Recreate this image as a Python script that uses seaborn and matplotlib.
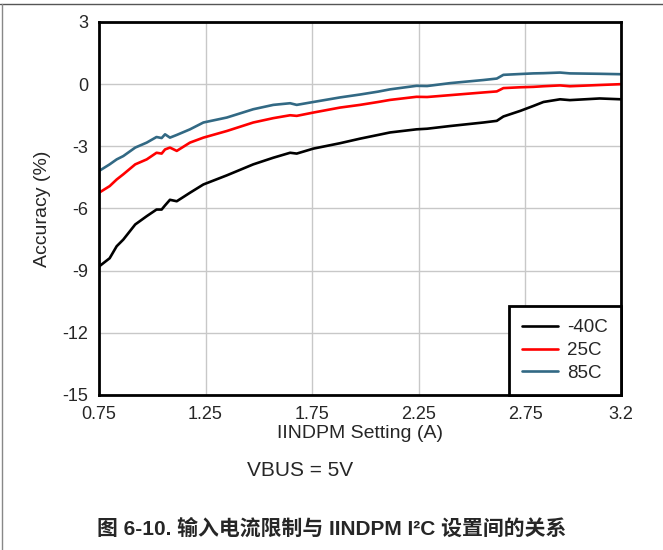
import numpy as np
import pandas as pd
import matplotlib
matplotlib.use("Agg")
import matplotlib.pyplot as plt
import seaborn as sns
from matplotlib.lines import Line2D

sns.set_style("white")
plt.rcParams['font.family'] = ['Liberation Sans', 'Noto Sans CJK SC', 'DejaVu Sans']
plt.rcParams['axes.unicode_minus'] = False

# IINDPM setting (A)
iindpm = [0.75, 0.80, 0.833, 0.864, 0.92, 0.974, 1.02, 1.044, 1.06, 1.083, 1.115,
          1.177, 1.24, 1.35, 1.474, 1.568, 1.647, 1.678, 1.756, 1.881, 1.975,
          2.06, 2.116, 2.24, 2.29, 2.398, 2.554, 2.617, 2.648, 2.727, 2.789,
          2.836, 2.914, 2.96, 3.10, 3.2]

acc_m40 = [-8.8, -8.4, -7.82, -7.5, -6.77, -6.37, -6.05, -6.05, -5.85, -5.58, -5.65,
           -5.24, -4.84, -4.40, -3.87, -3.55, -3.31, -3.35, -3.11, -2.85, -2.63,
           -2.45, -2.33, -2.18, -2.15, -2.02, -1.85, -1.77, -1.56, -1.29, -1.05,
           -0.86, -0.73, -0.77, -0.69, -0.73]

acc_25 = [-5.24, -4.92, -4.6, -4.35, -3.87, -3.63, -3.31, -3.35, -3.15, -3.06, -3.22,
          -2.82, -2.58, -2.26, -1.85, -1.64, -1.50, -1.53, -1.37, -1.13, -1.0,
          -0.86, -0.76, -0.61, -0.62, -0.53, -0.40, -0.35, -0.19, -0.15, -0.13,
          -0.10, -0.06, -0.10, -0.04, 0.0]

acc_85 = [-4.19, -3.87, -3.63, -3.47, -3.06, -2.82, -2.55, -2.6, -2.42, -2.58, -2.45,
          -2.18, -1.85, -1.61, -1.21, -1.0, -0.92, -1.0, -0.86, -0.64, -0.50,
          -0.36, -0.25, -0.08, -0.09, 0.05, 0.20, 0.27, 0.45, 0.49, 0.52,
          0.53, 0.56, 0.52, 0.50, 0.48]

temps = ['-40C', '25C', '85C']
colors = ['#000000', '#ff0000', '#326984']
xticks = [0.75, 1.25, 1.75, 2.25, 2.75, 3.2]
xtick_labels = ['0.75', '1.25', '1.75', '2.25', '2.75', '3.2']
yticks = [3, 0, -3, -6, -9, -12, -15]

df = pd.concat([
    pd.DataFrame({'I': iindpm, 'acc': acc_m40, 'T': temps[0]}),
    pd.DataFrame({'I': iindpm, 'acc': acc_25, 'T': temps[1]}),
    pd.DataFrame({'I': iindpm, 'acc': acc_85, 'T': temps[2]}),
])

fig = plt.figure(figsize=(6.63, 5.5), dpi=100)
ax = fig.add_axes([99/663, 1-395/550, 522/663, 373/550])

sns.lineplot(data=df, x='I', y='acc', hue='T', palette=colors, hue_order=temps,
             linewidth=1.9, ax=ax, sort=False, estimator=None)

ax.set_xlim(0.75, 3.2)
ax.set_ylim(-15, 3)
ax.set_xticks(xticks)
ax.set_xticklabels(xtick_labels)
ax.set_yticks(yticks)
ax.grid(True, color='#c8c8c8', linewidth=1.0)
ax.tick_params(length=0, labelsize=13, pad=8)
for s in ax.spines.values():
    s.set_visible(True)
    s.set_color('black')
    s.set_linewidth(2.0)
ax.set_xlabel('IINDPM Setting (A)', fontsize=14, labelpad=1)
ax.set_ylabel('Accuracy (%)', fontsize=14, labelpad=8)

leg = ax.legend(loc='lower right', borderaxespad=0, fontsize=13.5, fancybox=False,
                framealpha=1, handlelength=1.9, borderpad=0.7, labelspacing=0.3,
                handletextpad=0.5)
leg.get_frame().set_edgecolor('black')
leg.get_frame().set_linewidth(2.0)

fig.text(300/663, 1-470/550, 'VBUS = 5V', ha='center', va='center', fontsize=15)
fig.text(332/663, 1-529/550, '图 6-10. 输入电流限制与 IINDPM I²C 设置间的关系',
         ha='center', va='center', fontsize=15, fontweight='bold')

# page frame
fig.add_artist(Line2D([0, 1], [1-4/550, 1-4/550], color='#555555', linewidth=1.0))
fig.add_artist(Line2D([1.5/663, 1.5/663], [0, 1-4/550], color='#888888', linewidth=1.0))

fig.savefig('out.png', dpi=100)
